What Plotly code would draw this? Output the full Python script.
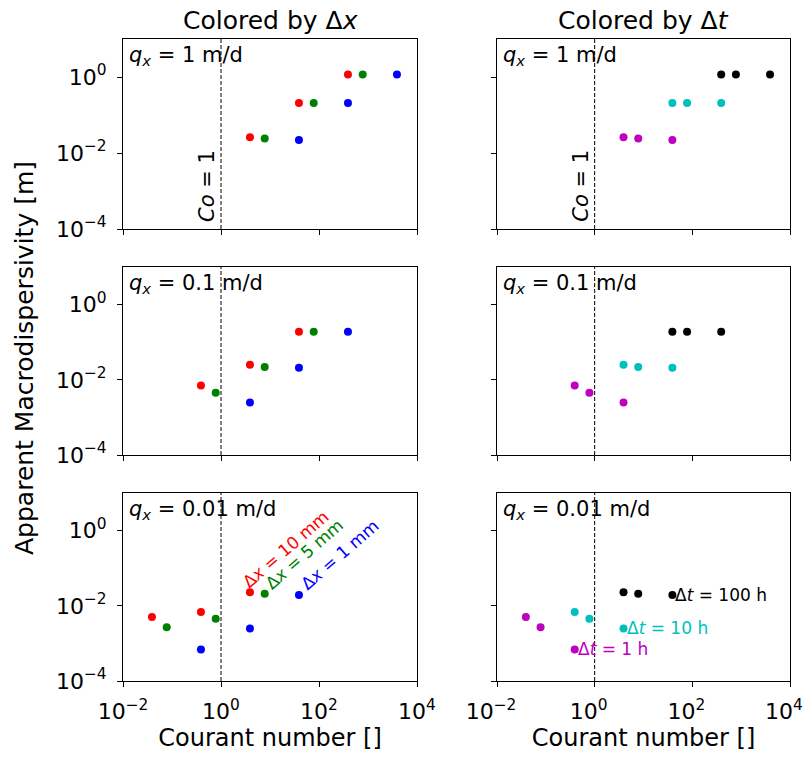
import numpy as np
import plotly.graph_objects as go

# ---------------- data ----------------
q_labels = ["1", "0.1", "0.01"]

# Courant numbers, per flux (rows) and grid size (dt = 1 h, 10 h, 100 h)
co_dx10 = [[3.9, 39, 390], [0.39, 3.9, 39], [0.039, 0.39, 3.9]]
co_dx5 = [[7.8, 78, 780], [0.78, 7.8, 78], [0.078, 0.78, 7.8]]
co_dx1 = [[39, 390, 3900], [3.9, 39, 390], [0.39, 3.9, 39]]

# Apparent macrodispersivity [m]
ad_dx10 = [[0.026, 0.207, 1.17], [0.0070, 0.025, 0.19], [0.0050, 0.0068, 0.023]]
ad_dx5 = [[0.024, 0.207, 1.17], [0.0045, 0.022, 0.19], [0.0027, 0.0045, 0.021]]
ad_dx1 = [[0.022, 0.207, 1.17], [0.0025, 0.021, 0.19], [0.00069, 0.0025, 0.0195]]

dx_names = ["Δ<i>x</i> = 10 mm", "Δ<i>x</i> = 5 mm", "Δ<i>x</i> = 1 mm"]
dt_names = ["Δ<i>t</i> = 1 h", "Δ<i>t</i> = 10 h", "Δ<i>t</i> = 100 h"]
dx_colors = ["#ff0000", "#008000", "#0000ff"]
dt_colors = ["#bf00bf", "#00bfbf", "#000000"]

x_tickvals = [1e-2, 1e0, 1e2, 1e4]
x_ticktext = ["10<sup>−2</sup>", "10<sup>0</sup>", "10<sup>2</sup>", "10<sup>4</sup>"]
y_tickvals = [1e-4, 1e-2, 1e0]
y_ticktext = ["10<sup>−4</sup>", "10<sup>−2</sup>", "10<sup>0</sup>"]

# ---------------- figure ----------------
W, H = 810, 759
OFF = 8  # page body margin
FONT = "DejaVu Sans"


def px_x(a, b):
    return ((a - OFF) / W, (b - OFF) / W)


def px_y(top, bottom):
    return (1 - (bottom - OFF) / H, 1 - (top - OFF) / H)


col_x = [px_x(123, 417), px_x(497, 790)]
row_y = [px_y(39, 229), px_y(267, 455), px_y(493, 681)]

fig = go.Figure()
layout = dict(
    width=W, height=H, margin=dict(l=0, r=0, t=0, b=0, autoexpand=False),
    paper_bgcolor="white", plot_bgcolor="white", showlegend=False,
    font=dict(family=FONT, color="black", size=22),
)
annotations = []

co_sets = [co_dx10, co_dx5, co_dx1]
ad_sets = [ad_dx10, ad_dx5, ad_dx1]

for r in range(3):
    for c in range(2):
        i = r * 2 + c + 1
        xa = "x" if i == 1 else f"x{i}"
        ya = "y" if i == 1 else f"y{i}"
        layout["xaxis" if i == 1 else f"xaxis{i}"] = dict(
            domain=list(col_x[c]), anchor=ya, type="log", range=[-2, 4],
            automargin=False,
            showgrid=False, showline=True, mirror=True, linecolor="black", linewidth=1,
            ticks="outside", ticklen=5, tickwidth=1, tickcolor="black",
            tickvals=x_tickvals, ticktext=x_ticktext, showticklabels=(r == 2),
            tickfont=dict(size=22, family=FONT), ticklabelstandoff=6,
            ticklabelshift=(-6 if c == 1 else 0),
            title=dict(text="Courant number []" if r == 2 else "",
                       font=dict(size=24, family=FONT), standoff=4),
        )
        layout["yaxis" if i == 1 else f"yaxis{i}"] = dict(
            domain=list(row_y[r]), anchor=xa, type="log", range=[-4, 1],
            automargin=False,
            showgrid=False, showline=True, mirror=True, linecolor="black", linewidth=1,
            ticks="outside", ticklen=5, tickwidth=1, tickcolor="black",
            tickvals=y_tickvals, ticktext=y_ticktext, showticklabels=(c == 0),
            tickfont=dict(size=22, family=FONT), ticklabelstandoff=6,
        )
        # Co = 1 dashed line
        fig.add_trace(go.Scatter(x=[1, 1], y=[1e-4, 1e1], mode="lines",
                                 line=dict(color="black", width=1, dash="4px,2px"),
                                 xaxis=xa, yaxis=ya, hoverinfo="skip"))
        if c == 0:
            for k in range(3):
                fig.add_trace(go.Scatter(x=co_sets[k][r], y=ad_sets[k][r], mode="markers",
                                         marker=dict(color=dx_colors[k], size=8),
                                         name=dx_names[k], xaxis=xa, yaxis=ya))
        else:
            for j in range(3):
                xs = [co_sets[k][r][j] for k in range(3)]
                ys = [ad_sets[k][r][j] for k in range(3)]
                fig.add_trace(go.Scatter(x=xs, y=ys, mode="markers",
                                         marker=dict(color=dt_colors[j], size=8),
                                         name=dt_names[j], xaxis=xa, yaxis=ya))
        # q_x label
        annotations.append(dict(
            text=f"<i>q</i><sub><i>x</i></sub> = {q_labels[r]} m/d",
            xref=f"{xa} domain", yref=f"{ya} domain", x=0, y=1, xshift=4, yshift=-2,
            xanchor="left", yanchor="top", showarrow=False,
            font=dict(size=21, family=FONT)))
        if r == 0:
            annotations.append(dict(
                text="<i>Co</i> = 1", xref=xa, yref=ya, x=0, y=-4,
                xanchor="right", yanchor="bottom", yshift=5, xshift=0, textangle=-90,
                showarrow=False, font=dict(size=21, family=FONT)))

# column titles
for c, ttl in enumerate(["Colored by Δ<i>x</i>", "Colored by Δ<i>t</i>"]):
    annotations.append(dict(text=ttl, xref="paper", yref="paper",
                            x=sum(col_x[c]) / 2, y=row_y[0][1], xanchor="center",
                            yanchor="bottom", yshift=3, borderpad=0,
                            showarrow=False, font=dict(size=25, family=FONT)))
# y label
annotations.append(dict(text="Apparent Macrodispersivity [m]", xref="paper", yref="paper",
                        x=(25 - OFF) / W, y=1 - (358 - OFF) / H, textangle=-90,
                        showarrow=False, xanchor="center", yanchor="middle",
                        font=dict(size=25, family=FONT)))

# rotated Δx labels on bottom-left panel (anchored at the dt = 100 h points)
dx_label_xshift = [-14, -6, -5]
for k in range(3):
    annotations.append(dict(text=dx_names[k], xref="x5", yref="y5",
                            x=np.log10(co_sets[k][2][2]), y=np.log10(ad_sets[k][2][2]),
                            xanchor="left", yanchor="bottom", textangle=-41,
                            xshift=dx_label_xshift[k], yshift=-2, showarrow=False,
                            font=dict(size=17, family=FONT, color=dx_colors[k])))
# Δt labels on bottom-right panel (anchored at the Δx = 1 mm points)
for j in range(3):
    annotations.append(dict(text=dt_names[j], xref="x6", yref="y6",
                            x=np.log10(co_dx1[2][j]), y=np.log10(ad_dx1[2][j]),
                            xanchor="left", yanchor="middle", xshift=1,
                            showarrow=False,
                            font=dict(size=17, family=FONT, color=dt_colors[j])))

layout["annotations"] = annotations
fig.update_layout(**layout)
fig.write_html("out.html")
